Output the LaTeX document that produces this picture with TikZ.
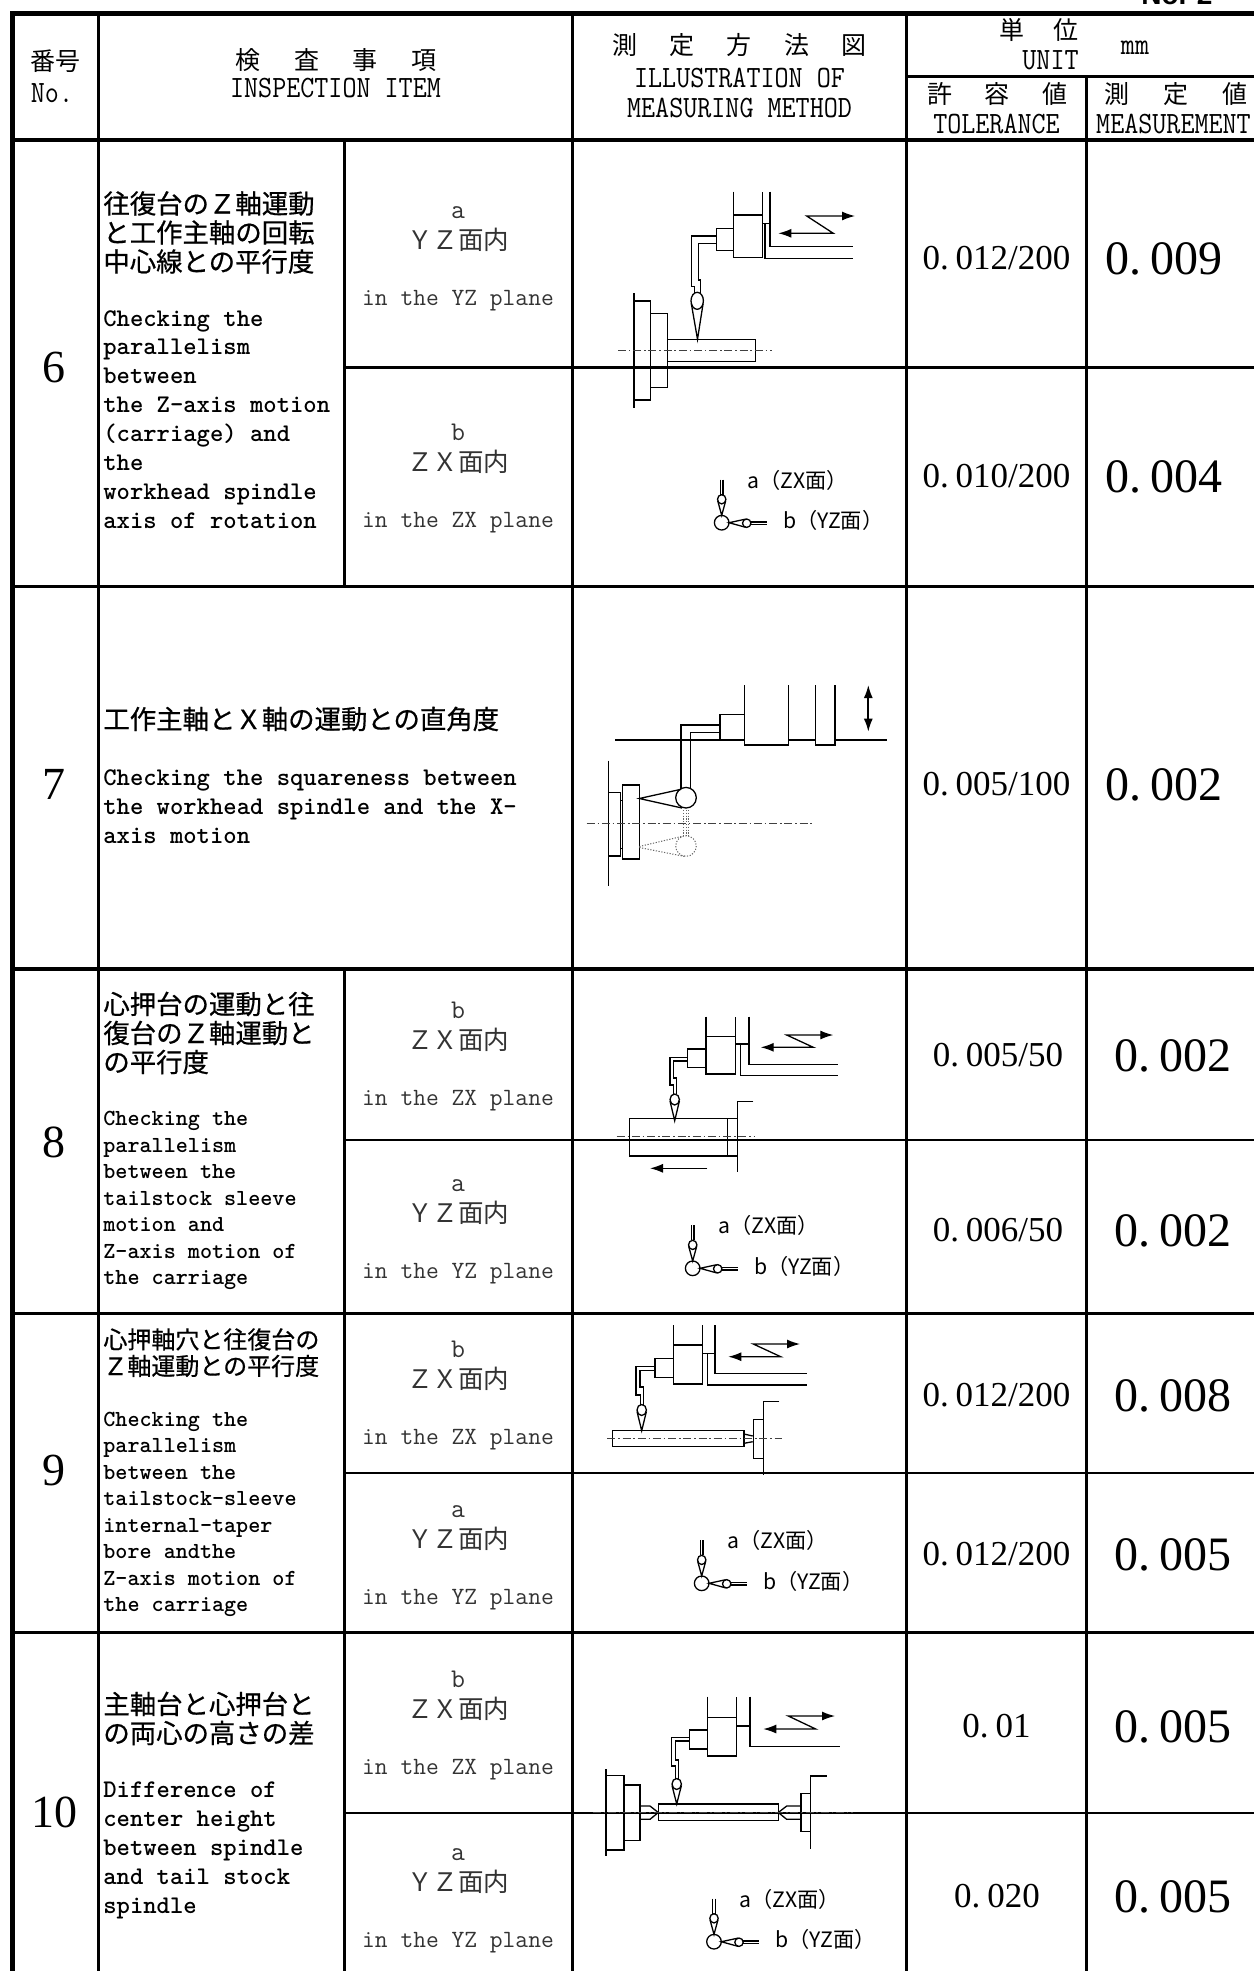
\documentclass[tikz,border=0pt]{standalone}
\usepackage{fontspec}
\usepackage{graphicx}
\usetikzlibrary{arrows.meta}
\newfontfamily\jp{Noto Sans CJK JP}
\newfontfamily\jpm{Noto Sans CJK JP}[FakeBold=0.6]
\newfontfamily\lsans{Liberation Sans}
\newfontfamily\lserif{Liberation Serif}
\newcommand\hdr[1]{\scalebox{0.88}[1]{#1}}
\newcommand\tdot{.\hspace{0.2em}}
\tikzset{
  gthick/.style={line width=2.5pt},
  gmaj/.style={line width=1.65pt},
  gmin/.style={line width=1.35pt},
  gvert/.style={line width=1.5pt},
  dl/.style={line width=0.65pt, line join=miter},
  cline/.style={line width=0.5pt, black!75, dash pattern=on 4pt off 1.4pt on 0.8pt off 1.4pt},
  dots/.style={line width=0.5pt, black!60, dash pattern=on 0.6pt off 0.8pt},
  tip/.style={-{Latex[length=6.5pt,width=4.5pt]}},
  zarr/.style={{Latex[length=6.5pt,width=4.5pt]}-{Latex[length=6.5pt,width=4.5pt]}},
  jpt/.style={font=\jpm\fontsize{13.2}{14.5}\selectfont, anchor=base west, inner sep=0},
  jps/.style={font=\jpm\fontsize{12}{13.5}\selectfont, anchor=base west, inner sep=0},
  ent/.style={font=\ttfamily\bfseries\fontsize{12.7}{14.5}\selectfont, anchor=base west, inner sep=0},
  ens/.style={font=\ttfamily\bfseries\fontsize{11.5}{13.3}\selectfont, anchor=base west, inner sep=0},
  subl/.style={font=\ttfamily\fontsize{13.5}{14}\selectfont, anchor=base, inner sep=0, text=black!80},
  sube/.style={font=\ttfamily\fontsize{12.4}{14}\selectfont, anchor=base, inner sep=0, text=black!80},
  subj/.style={font=\jp\fontsize{12.75}{14}\selectfont, anchor=base, inner sep=0, text=black!80},
  tol/.style={font=\lserif\fontsize{17.5}{20}\selectfont, anchor=base, inner sep=0},
  meas/.style={font=\lserif\fontsize{24}{28}\selectfont, anchor=base, inner sep=0},
  num/.style={font=\lserif\fontsize{23}{26}\selectfont, anchor=center, inner sep=0},
  hj/.style={font=\jp\fontsize{12.5}{14}\selectfont, anchor=base, inner sep=0},
  he/.style={font=\ttfamily\fontsize{15.5}{18}\selectfont, anchor=base, inner sep=0},
  lgd/.style={font=\jp\fontsize{10.6}{12}\selectfont, anchor=west, inner sep=0},
  probeicon/.pic={
    \draw[dl] (0,0) circle[radius=7.3];
    \draw[dl] (0,-23.4) ellipse[x radius=4.2, y radius=4.6];
    \draw[dl] (-4,-22) -- (0,-7.3) -- (4,-22);
    \draw[dl] (-1.3,-43) -- (-1.3,-28);
    \draw[dl] (1.3,-43) -- (1.3,-28);
    \draw[dl] (25,0.5) ellipse[x radius=4.2, y radius=4.2];
    \draw[dl] (24,-3.6) -- (7.3,0) -- (24,4.6);
    \draw[dl] (29.2,-0.8) -- (45,-0.8);
    \draw[dl] (29.2,1.8) -- (45,1.8);
  }
}
\begin{document}
\begin{tikzpicture}[x=0.5pt,y=-0.5pt]
\useasboundingbox (0,0) rectangle (1254,1971);
\fill[white] (0,0) rectangle (1254,1971);
% ---------- grid ----------
\draw[gthick, line join=miter] (12.5,1971) -- (12.5,13.5) -- (1254,13.5);
\draw[gmin] (906.5,76.3) -- (1254,76.3);
\draw[line width=2pt] (12.5,139.5) -- (1254,139.5);
\foreach \yy in {586.5,969,1313.5,1632.5} \draw[gmaj] (12.5,\yy) -- (1254,\yy);
\foreach \yy in {367.3,1140,1473,1813} \draw[gmin] (344,\yy) -- (1254,\yy);
\draw[gvert] (98.5,13.5) -- (98.5,1971);
\draw[gvert] (344,139.5) -- (344,586.5);
\draw[gvert] (344,969) -- (344,1971);
\draw[gvert] (572,13.5) -- (572,1971);
\draw[gvert] (906.5,13.5) -- (906.5,1971);
\draw[gvert] (1086,76.3) -- (1086,1971);
% ---------- header ----------
\node[font=\lsans\bfseries\fontsize{14}{16}\selectfont, anchor=base west, inner sep=0] (pageno) at (1141,4) {No. 2};
\node[hj] (hno) at (56,70) {番号};
\node[he] (hnoe) at (52,102.5) {\hdr{No.}};
\node[hj] (hitem) at (336,69.5) {検\hspace{16.8pt}査\hspace{16.8pt}事\hspace{16.8pt}項};
\node[he] (hiteme) at (335.5,97.5) {\hdr{INSPECTION ITEM}};
\node[hj] (hill) at (739.5,54) {測\hspace{16.2pt}定\hspace{16.2pt}方\hspace{16.2pt}法\hspace{16.2pt}図};
\node[he] (hille) at (739.5,87) {\hdr{ILLUSTRATION OF}};
\node[he] (hille2) at (739.5,117) {\hdr{MEASURING METHOD}};
\node[hj] (hunit) at (1038.5,39) {単\hspace{14.5pt}位};
\node[he] (hunite) at (1050.5,69.5) {\hdr{UNIT}};
\node[he] (hmm) at (1135,54) {\hdr{mm}};
\node[hj] (htol) at (997.5,103) {許\hspace{16.4pt}容\hspace{16.4pt}値};
\node[he] (htole) at (996.5,133.5) {\hdr{TOLERANCE}};
\node[hj] (hmeas) at (1176,103) {測\hspace{17pt}定\hspace{17pt}値};
\node[he] (hmease) at (1173.5,133.5) {\hdr{MEASUREMENT}};
% ---------- numbers ----------
\node[num] (n6) at (54,367) {6};
\node[num] (n7) at (54,784) {7};
\node[num] (n8) at (54,1142) {8};
\node[num] (n9) at (54,1470) {9};
\node[num] (n10) at (55,1812) {10};
% ---------- item texts ----------
\foreach \t [count=\i] in {往復台のＺ軸運動,と工作主軸の回転,中心線との平行度}
  \node[jpt] (r6j\i) at (103,184.5+29*\i) {\t};
\foreach \t [count=\i] in {Checking the,parallelism,between,the Z-axis motion,(carriage) and,the,workhead spindle,axis of rotation}
  \node[ent] (r6e\i) at (103,297.1+28.9*\i) {\t};
\node[jpt] (r7j1) at (103,729) {工作主軸とＸ軸の運動との直角度};
\foreach \t [count=\i] in {Checking the squareness between,the workhead spindle and the X-,axis motion}
  \node[ent] (r7e\i) at (103,756+29*\i) {\t};
\foreach \t [count=\i] in {心押台の運動と往,復台のＺ軸運動と,の平行度}
  \node[jpt] (r8j\i) at (103,985+29*\i) {\t};
\foreach \t [count=\i] in {Checking the,parallelism,between the,tailstock sleeve,motion and,Z-axis motion of,the carriage}
  \node[ens] (r8e\i) at (103,1099+26.5*\i) {\t};
\foreach \t [count=\i] in {心押軸穴と往復台の,Ｚ軸運動との平行度}
  \node[jps] (r9j\i) at (103,1322+26.5*\i) {\t};
\foreach \t [count=\i] in {Checking the,parallelism,between the,tailstock-sleeve,internal-taper,bore andthe,Z-axis motion of,the carriage}
  \node[ens] (r9e\i) at (103,1399.5+26.5*\i) {\t};
\foreach \t [count=\i] in {主軸台と心押台と,の両心の高さの差}
  \node[jpt] (r10j\i) at (103,1685+29*\i) {\t};
\foreach \t [count=\i] in {Difference of,center height,between spindle,and tail stock,spindle}
  \node[ent] (r10e\i) at (103,1768.6+28.9*\i) {\t};
% ---------- sub-column ----------
\foreach \nm/\L/\P/\J/\E in {s6a/a/ＹＺ面内/249/in the YZ plane, s6b/b/ＺＸ面内/471/in the ZX plane,
    s8b/b/ＺＸ面内/1049/in the ZX plane, s8a/a/ＹＺ面内/1222/in the YZ plane,
    s9b/b/ＺＸ面内/1388/in the ZX plane, s9a/a/ＹＺ面内/1548/in the YZ plane,
    s10b/b/ＺＸ面内/1718/in the ZX plane, s10a/a/ＹＺ面内/1891/in the YZ plane}{
  \node[subl] (\nm l) at (458,\J-31) {\L};
  \node[subj] (\nm j) at (458,\J) {\P};
  \node[sube] (\nm e) at (458,\J+56) {\E};
}
% ---------- tolerance / measurement ----------
\node[tol] (t6a) at (996.5,269) {0\tdot 012/200};
\node[tol] (t6b) at (996.5,487) {0\tdot 010/200};
\node[tol] (t7) at (996.5,795) {0\tdot 005/100};
\node[tol] (t8b) at (998,1066) {0\tdot 005/50};
\node[tol] (t8a) at (998,1241) {0\tdot 006/50};
\node[tol] (t9b) at (996.5,1406) {0\tdot 012/200};
\node[tol] (t9a) at (996.5,1565) {0\tdot 012/200};
\node[tol] (t10b) at (996.5,1737) {0\tdot 01};
\node[tol] (t10a) at (997,1907) {0\tdot 020};
\node[meas] (m6a) at (1164,274) {0\tdot 009};
\node[meas] (m6b) at (1164,492.5) {0\tdot 004};
\node[meas] (m7) at (1164,800) {0\tdot 002};
\node[meas] (m8b) at (1173,1071) {0\tdot 002};
\node[meas] (m8a) at (1173,1246) {0\tdot 002};
\node[meas] (m9b) at (1173,1411) {0\tdot 008};
\node[meas] (m9a) at (1173,1570) {0\tdot 005};
\node[meas] (m10b) at (1173,1742) {0\tdot 005};
\node[meas] (m10a) at (1173,1912) {0\tdot 005};
% ---------- diagram row 6 ----------
\draw[dl] (733.3,191.7) -- (733.3,257.3) -- (762.3,257.3) -- (762.3,191.7);
\draw[dl] (733.3,215) -- (762.3,215);
\draw[dl] (762.3,223.3) -- (770,223.3);
\draw[dl] (770,191.7) -- (770,246.7) -- (853,246.7);
\draw[dl] (765,223.3) -- (765,258.3) -- (853,258.3);
\draw[dl] (716.7,228.3) rectangle (733.3,250.7);
\draw[dl] (716.7,236) -- (691.7,236) -- (691.7,286.7) -- (694.5,286.7) -- (694.5,292.5);
\draw[dl] (716.7,243.5) -- (698.5,243.5) -- (698.5,280) -- (700.5,280) -- (700.5,292.5);
\draw[dl] (697.2,300.8) ellipse[x radius=6.2, y radius=8.5];
\draw[dl] (691.3,303.5) -- (697.5,339.3) -- (703.1,303.5);
\draw[dl] (634,293) -- (634,408);
\draw[dl] (634,301) rectangle (650.3,400);
\draw[dl] (650.3,313.3) rectangle (667.3,387.3);
\draw[dl] (667.3,339.3) rectangle (755.7,361.7);
\draw[cline] (618,350.7) -- (771.7,350.7);
\draw[dl, zarr] (778.3,233.3) -- (833.3,233.3) -- (806.7,216) -- (855,216);
\pic at (721.7,522.7) {probeicon};
\node[lgd] (l6a) at (746.7,480) {a（ZX面）};
\node[lgd] (l6b) at (782.7,520.7) {b（YZ面）};
% ---------- diagram row 7 ----------
\draw[dl] (615,740) -- (886.7,740);
\draw[dl, fill=white] (744.3,685) -- (744.3,745) -- (788.3,745) -- (788.3,685);
\draw[dl, fill=white] (815.7,685) -- (815.7,745) -- (835,745) -- (835,685);
\draw[dl, fill=white] (720,714.3) rectangle (744.3,740);
\draw[dl] (720,725) -- (681,725) -- (681,789);
\draw[dl] (720,732.7) -- (690.7,732.7) -- (690.7,788);
\draw[dl] (686,797.7) circle[radius=10.3];
\draw[dl] (681,789.3) -- (639.3,798.5) -- (682,808);
\draw[dl] (608.3,760.7) -- (608.3,886);
\draw[dl] (608.3,792.7) rectangle (620.7,856);
\draw[dl] (622.3,785) rectangle (639.3,859);
\draw[dl] (620.7,800.7) -- (622.3,800.7);
\draw[dl] (620.7,848.3) -- (622.3,848.3);
\draw[dots] (686,846) circle[radius=10.3];
\draw[dots] (639.3,846.5) -- (681.5,836.5);
\draw[dots] (639.3,847.5) -- (685,856.5);
\draw[dots] (683.3,810) -- (683.3,836);
\draw[dots] (686,810) -- (686,836);
\draw[dots] (688.5,810) -- (688.5,836);
\draw[cline] (586.7,823.3) -- (813.3,823.3);
\draw[line width=0.85pt, zarr] (868.3,685) -- (868.3,731.7);
% ---------- diagram row 8 ----------
\draw[dl] (706,1016.7) -- (706,1074) -- (735.7,1074) -- (735.7,1016.7);
\draw[dl] (706,1036.7) -- (735.7,1036.7);
\draw[dl] (735.7,1044) -- (749,1044);
\draw[dl] (749,1016.7) -- (749,1064.3) -- (838.3,1064.3);
\draw[dl] (740.7,1044) -- (740.7,1075.3) -- (838.3,1075.3);
\draw[dl] (687.7,1049) rectangle (706,1067.7);
\draw[dl] (687.7,1057.3) -- (670,1057.3) -- (670,1085) -- (673.2,1085) -- (673.2,1094.2);
\draw[dl] (687.7,1061) -- (673.7,1061) -- (673.7,1078) -- (676.5,1078) -- (676.5,1094.2);
\draw[dl] (674.7,1099.5) ellipse[x radius=4.7, y radius=5.5];
\draw[dl] (670,1101) -- (674.7,1120.7) -- (679.4,1101);
\draw[dl] (629.3,1118.3) rectangle (727.3,1156);
\draw[dl] (727.3,1118.3) rectangle (737.3,1156);
\draw[dl] (753.3,1101.7) -- (737.3,1101.7) -- (737.3,1171.7);
\draw[cline] (616.7,1136.7) -- (755,1136.7);
\draw[dl, tip] (707.3,1168.3) -- (650,1168.3);
\draw[dl, zarr] (760.7,1047.3) -- (813.3,1047.3) -- (786.7,1035) -- (833.3,1035);
\pic at (692.7,1268.3) {probeicon};
\node[lgd] (l8a) at (717.7,1225.8) {a（ZX面）};
\node[lgd] (l8b) at (753.7,1266.3) {b（YZ面）};
% ---------- diagram row 9 ----------
\draw[dl] (673.3,1325) -- (673.3,1384) -- (702.7,1384) -- (702.7,1325);
\draw[dl] (673.3,1345) -- (702.7,1345);
\draw[dl] (702.7,1353.3) -- (715,1353.3);
\draw[dl] (715,1325) -- (715,1373.3) -- (806.7,1373.3);
\draw[dl] (707.3,1353.3) -- (707.3,1385) -- (806.7,1385);
\draw[dl] (655,1358.3) rectangle (673.3,1377.3);
\draw[dl] (655,1366.7) -- (636,1366.7) -- (636,1395) -- (640.2,1395) -- (640.2,1404.6);
\draw[dl] (655,1370.3) -- (640,1370.3) -- (640,1387) -- (643.4,1387) -- (643.4,1404.6);
\draw[dl] (641.7,1410) ellipse[x radius=4.7, y radius=5.5];
\draw[dl] (637,1411.5) -- (641.7,1430.7) -- (646.4,1411.5);
\draw[dl] (612.7,1430.7) rectangle (744,1446.7);
\draw[dl] (744,1434) -- (752.7,1436);
\draw[dl] (744,1443.3) -- (752.7,1441.7);
\draw[dl] (753.3,1419.3) rectangle (763.3,1458.3);
\draw[dl] (779.3,1401.7) -- (763.3,1401.7) -- (763.3,1475);
\draw[cline] (607.3,1438.3) -- (781.7,1438.3);
\draw[dl, zarr] (728.3,1356.7) -- (780.7,1356.7) -- (753.3,1344) -- (800,1344);
\pic at (701.7,1583.3) {probeicon};
\node[lgd] (l9a) at (726.7,1540.8) {a（ZX面）};
\node[lgd] (l9b) at (762.7,1581.3) {b（YZ面）};
% ---------- diagram row 10 ----------
\draw[dl] (707.7,1696.7) -- (707.7,1756) -- (736.7,1756) -- (736.7,1696.7);
\draw[dl] (707.7,1717.3) -- (736.7,1717.3);
\draw[dl] (736.7,1726) -- (750,1726);
\draw[dl] (750,1696.7) -- (750,1746.7) -- (840,1746.7);
\draw[dl] (689.3,1730) rectangle (707.7,1749);
\draw[dl] (689.3,1737.3) -- (671.7,1737.3) -- (671.7,1766) -- (675.2,1766) -- (675.2,1778.6);
\draw[dl] (689.3,1741) -- (675.3,1741) -- (675.3,1760) -- (678.3,1760) -- (678.3,1778.6);
\draw[dl] (676.7,1784) ellipse[x radius=4.7, y radius=5.5];
\draw[dl] (672,1785.5) -- (676.7,1804) -- (681.4,1785.5);
\draw[dl] (606,1769.3) -- (606,1856);
\draw[dl] (606,1775.7) rectangle (624,1850);
\draw[dl] (624,1785) rectangle (640,1840.7);
\draw[dl] (640,1806) -- (650,1806) -- (658.3,1812.5) -- (650,1819.3) -- (640,1819.3);
\draw[dl] (658.3,1804) rectangle (778.3,1820.7);
\draw[dl] (801,1806) -- (786.7,1806) -- (778.3,1812.5) -- (786.7,1819.3) -- (801,1819.3);
\draw[dl] (801,1793.3) rectangle (810.7,1831.7);
\draw[dl] (826.7,1776) -- (810.7,1776) -- (810.7,1849.3);
\draw[cline] (592.7,1812.7) -- (853.3,1812.7);
\draw[dl, zarr] (763.3,1729) -- (815.7,1729) -- (788.3,1716) -- (835,1716);
\pic at (714,1941.7) {probeicon};
\node[lgd] (l10a) at (739,1899.2) {a（ZX面）};
\node[lgd] (l10b) at (775,1939.7) {b（YZ面）};
\end{tikzpicture}
\end{document}
